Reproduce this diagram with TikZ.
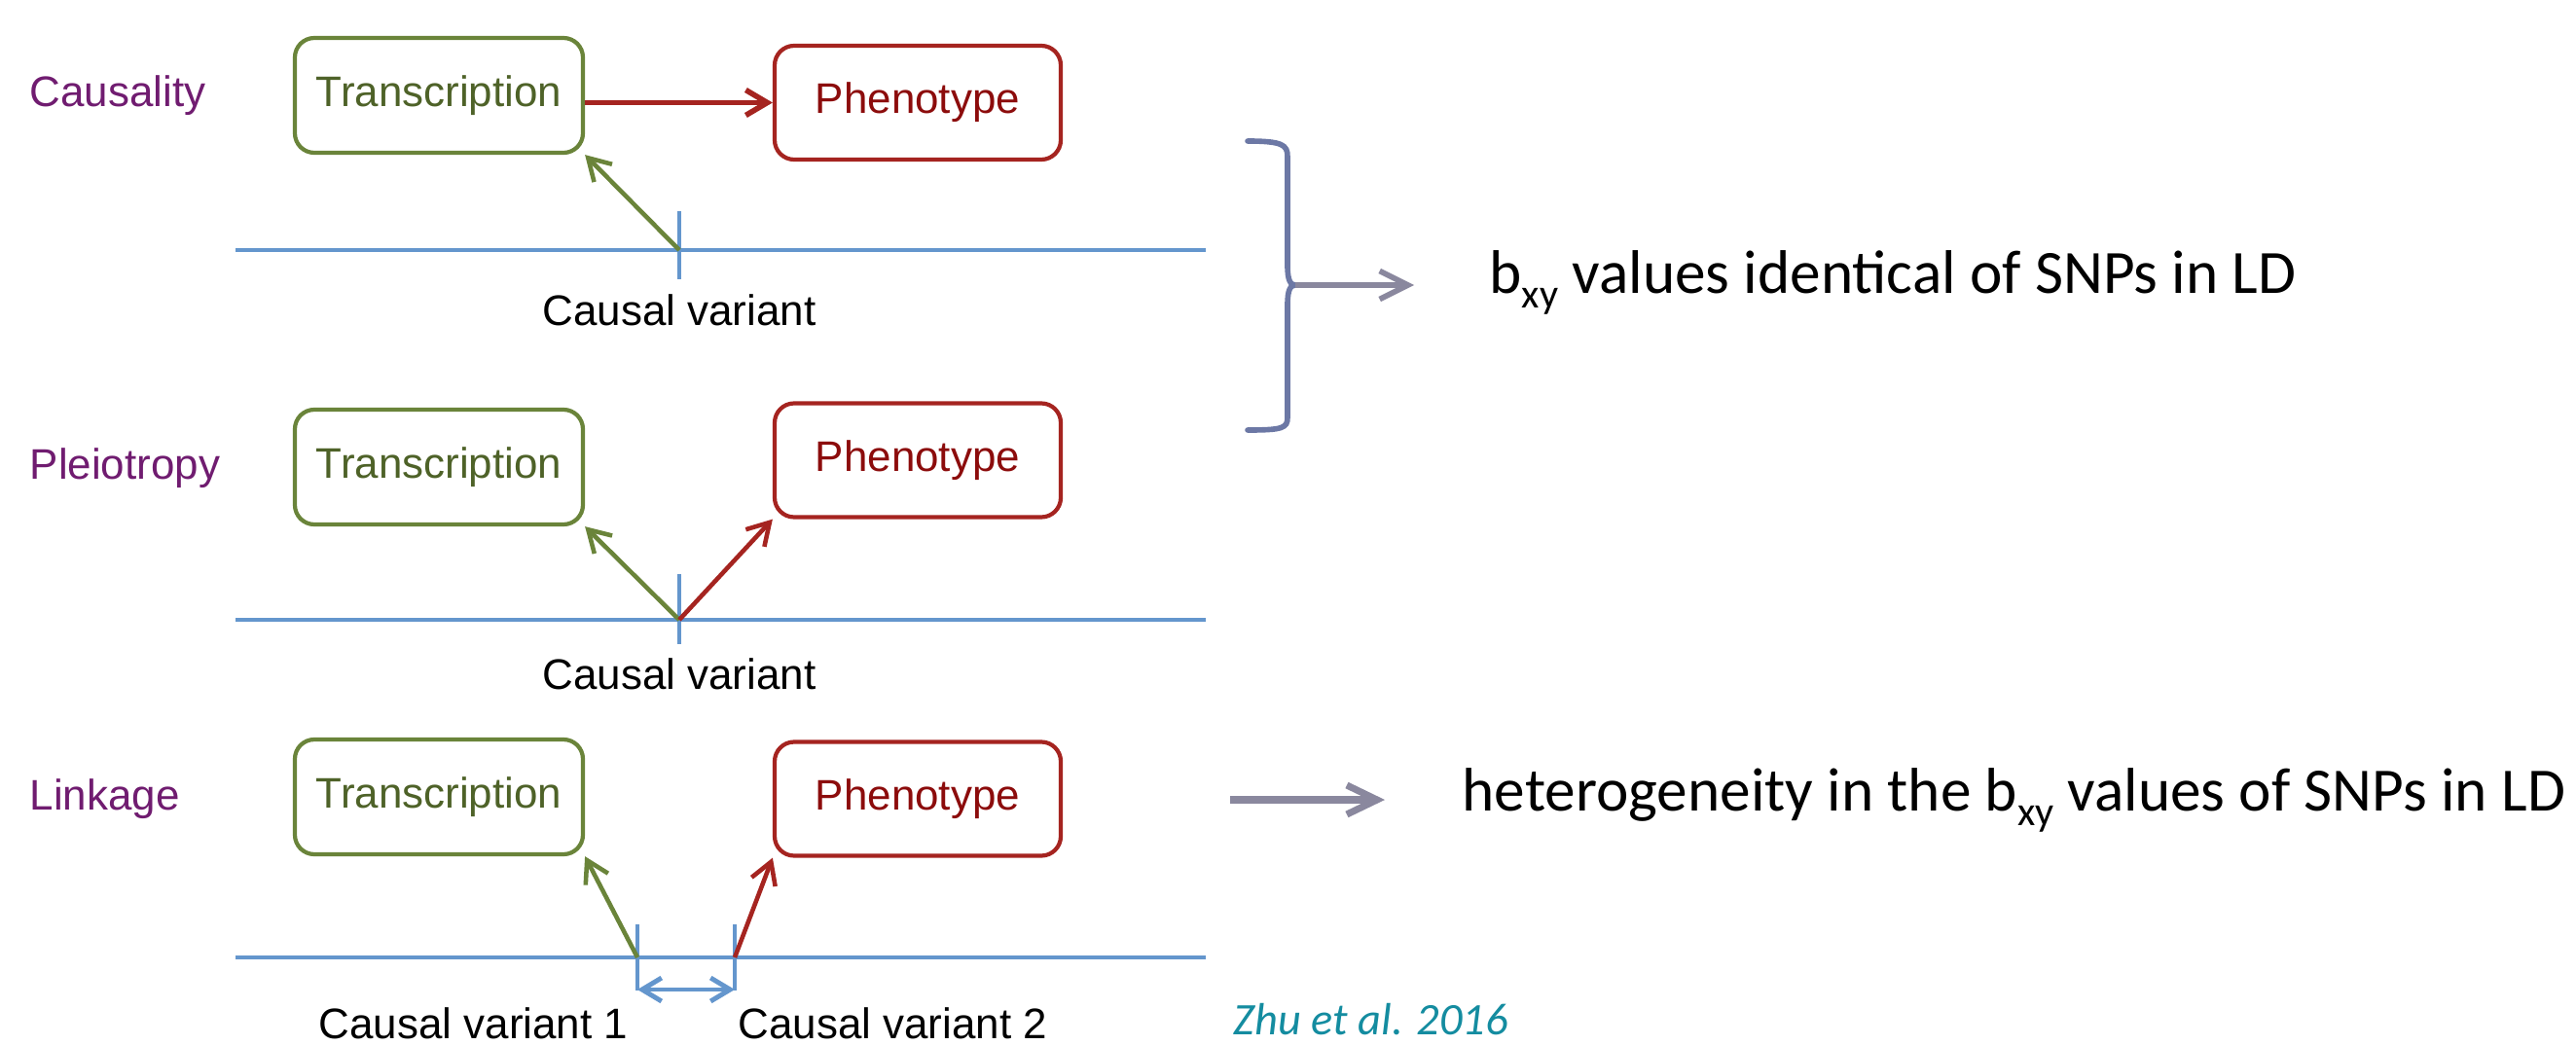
\documentclass[tikz,border=0pt]{standalone}
\usepackage{fontspec}
\setmainfont{Liberation Sans}
\newfontfamily\calib{Carlito}
\usepackage{xcolor}
\usetikzlibrary{calc,arrows.meta}

\definecolor{lblpurple}{RGB}{112,28,112}
\definecolor{trgreen}{RGB}{106,132,58}
\definecolor{trtext}{RGB}{78,98,40}
\definecolor{phred}{RGB}{165,36,32}
\definecolor{phtext}{RGB}{140,12,12}
\definecolor{snpblue}{RGB}{100,150,205}
\definecolor{bracecol}{RGB}{108,120,165}
\definecolor{arrgrey}{RGB}{138,136,158}
\definecolor{citeteal}{RGB}{20,140,160}

\newcommand{\bxy}{b\raisebox{-0.15cm}{\fontsize{12}{12}\selectfont xy}}

\tikzset{
  transbox/.style={draw=trgreen,text=trtext,line width=1.2pt,rounded corners=0.2cm,
    minimum width=2.96cm,minimum height=1.18cm,font=\fontsize{12.5}{15}\selectfont},
  phenobox/.style={transbox,draw=phred,text=phtext,minimum width=2.94cm,minimum height=1.17cm},
  rowlabel/.style={anchor=base west,inner sep=0,text=lblpurple,font=\fontsize{12.5}{15}\selectfont},
  varlabel/.style={inner sep=0,font=\fontsize{12.5}{15}\selectfont},
  sidetext/.style={anchor=base west,inner sep=0,font=\calib\fontsize{18}{22}\selectfont},
  dnaline/.style={draw=snpblue,line width=1.4pt},
  greenarr/.style={draw=trgreen,line width=1.3pt,-{Straight Barb[length=2.2mm,width=2.6mm]}},
  redarr/.style={greenarr,draw=phred},
  greyarrow/.style={draw=arrgrey,line width=1.6pt,-{Straight Barb[length=2.9mm,width=2.9mm]}}
}

\begin{document}
\begin{tikzpicture}
\useasboundingbox (0,0) rectangle (26.47,10.73);
% row labels
\node[rowlabel] (Lc) at (0.30,9.63){Causality};
\node[rowlabel] (Lp) at (0.30,5.81){Pleiotropy};
\node[rowlabel] (Ll) at (0.30,2.41){Linkage};

% causality
\node[transbox] (T1) at (4.51,9.75){Transcription};
\node[phenobox] (P1) at (9.43,9.675){\raisebox{0.07cm}{Phenotype}};
\coordinate (V1) at (6.98,8.16);
\draw[dnaline](2.42,8.16)--(12.39,8.16);
\draw[dnaline]($(V1)+(0,0.40)$)--($(V1)-(0,0.30)$);
\draw[redarr,line width=1.6pt](T1.east |- P1.west)--(P1.west);
\draw[greenarr](V1)--(T1.south east);
\node[varlabel,anchor=base] (C1) at (6.98,7.38){Causal variant};

% pleiotropy
\node[transbox] (T2) at (4.51,5.93){Transcription};
\node[phenobox] (P2) at (9.43,6.00){Phenotype};
\coordinate (V2) at (6.98,4.36);
\draw[dnaline](2.42,4.36)--(12.39,4.36);
\draw[dnaline]($(V2)+(0,0.47)$)--($(V2)-(0,0.25)$);
\draw[greenarr](V2)--(T2.south east);
\draw[redarr](V2)--(P2.south west);
\node[varlabel,anchor=base] (C2) at (6.98,3.65){Causal variant};

% linkage
\node[transbox] (T3) at (4.51,2.54){Transcription};
\node[phenobox] (P3) at (9.43,2.52){Phenotype};
\coordinate (V3a) at (6.55,0.89);
\coordinate (V3b) at (7.55,0.89);
\draw[dnaline](2.42,0.89)--(12.39,0.89);
\draw[dnaline]($(V3a)+(0,0.34)$)--($(V3a)-(0,0.34)$);
\draw[dnaline]($(V3b)+(0,0.34)$)--($(V3b)-(0,0.34)$);
\draw[dnaline,{Straight Barb[length=2mm,width=2.4mm]}-{Straight Barb[length=2mm,width=2.4mm]}]($(V3a)-(0,0.33)$)--($(V3b)-(0,0.33)$);
\draw[greenarr](V3a)--(T3.south east);
\draw[redarr](V3b)--(P3.south west);
\node[varlabel,anchor=base east] (C3a) at (6.46,0.06){Causal variant 1};
\node[varlabel,anchor=base west] (C3b) at (7.58,0.06){Causal variant 2};
\node[inner sep=0,anchor=base west,text=citeteal,font=\calib\itshape\fontsize{13.2}{15}\selectfont] (Ref) at (12.67,0.10){Zhu et al. 2016};

% brace and conclusions
\coordinate (BT) at (13.31,7.80);
\coordinate (BA) at (14.53,7.80);
\draw[bracecol,line width=1.6pt,line cap=round](12.82,9.28)..controls(13.18,9.28)and(13.23,9.24)..(13.23,9.12)
  --(13.23,8.00)..controls(13.23,7.85)and(13.26,7.80)..(BT)
  ..controls(13.26,7.80)and(13.23,7.75)..(13.23,7.60)
  --(13.23,6.44)..controls(13.23,6.33)and(13.18,6.31)..(12.82,6.31);
\draw[greyarrow](BT)--(BA);
\node[sidetext] (R1) at (15.30,7.71){\bxy{} values identical of SNPs in LD};

\coordinate (HA0) at (12.64,2.51);
\coordinate (HA1) at (14.23,2.51);
\draw[greyarrow,line width=2pt,-{Straight Barb[length=3.1mm,width=3mm]}](HA0)--(HA1);
\node[sidetext] (R2) at (15.02,2.40){heterogeneity in the \bxy{} values of SNPs in LD};
\end{tikzpicture}
\end{document}
